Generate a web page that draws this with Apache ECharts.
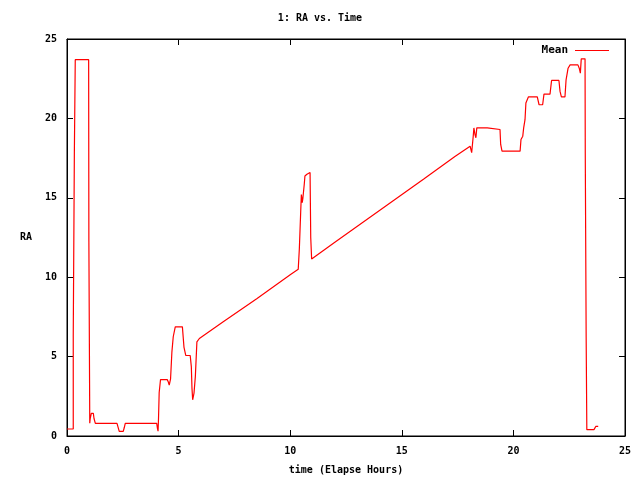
<!DOCTYPE html>
<html>
<head>
<meta charset="utf-8">
<script src="https://cdn.jsdelivr.net/npm/echarts@6/dist/echarts.min.js"></script>
<style>html,body{margin:0;padding:0;background:#fff}#c{width:640px;height:480px}</style>
</head>
<body>
<div id="c"></div>
<script>
const titleText = "1: RA vs. Time";
const xAxisName = "time (Elapse Hours)";
const yAxisName = "RA";
const seriesName = "Mean";
const xTicks = [0, 5, 10, 15, 20, 25];
const yTicks = [0, 5, 10, 15, 20, 25];

const timeHours = [
  0, 0.28, 0.28, 0.33, 0.33, 0.37, 0.37, 0.97, 0.98, 1.01,
  1.02, 1.04, 1.09, 1.18, 1.21, 1.27, 2.24, 2.30, 2.34, 2.52,
  2.57, 2.61, 4.02, 4.05, 4.08, 4.10, 4.13, 4.19, 4.49, 4.54,
  4.58, 4.64, 4.70, 4.76, 4.85, 5.17, 5.24, 5.32, 5.52, 5.57,
  5.60, 5.63, 5.69, 5.75, 5.82, 5.93, 7.0, 8.5, 10.0, 10.36,
  10.41, 10.47, 10.50, 10.54, 10.57, 10.63, 10.66, 10.75, 10.89, 10.92,
  10.96, 12.0, 14.0, 16.0, 17.38, 18.06, 18.13, 18.20, 18.23, 18.28,
  18.32, 18.36, 18.83, 18.91, 19.40, 19.43, 19.49, 20.30, 20.34, 20.42,
  20.46, 20.52, 20.56, 20.67, 21.07, 21.15, 21.31, 21.37, 21.64, 21.71,
  22.04, 22.09, 22.15, 22.31, 22.36, 22.45, 22.54, 22.89, 22.95, 23.00,
  23.04, 23.21, 23.22, 23.25, 23.26, 23.28, 23.29, 23.61, 23.65, 23.69,
  23.80
];
const raMean = [
  0.44, 0.44, 6.27, 6.27, 17.9, 17.9, 23.7, 23.7, 12.3, 12.3,
  0.8, 1.1, 1.42, 1.42, 1.1, 0.8, 0.8, 0.5, 0.29, 0.29,
  0.55, 0.8, 0.8, 0.5, 0.3, 1.1, 2.74, 3.55, 3.55, 3.4,
  3.2, 3.6, 5.3, 6.25, 6.87, 6.87, 5.6, 5.07, 5.07, 4.37,
  3.0, 2.28, 2.7, 3.74, 5.93, 6.14, 7.2, 8.65, 10.15, 10.5,
  11.8, 14.1, 15.2, 14.7, 15.0, 15.85, 16.37, 16.48, 16.59, 12.5,
  11.15, 12.2, 14.2, 16.2, 17.6, 18.25, 17.84, 18.88, 19.4, 18.98,
  18.78, 19.4, 19.4, 19.3, 19.3, 18.36, 17.94, 17.94, 18.67, 18.88,
  19.4, 19.92, 20.97, 21.35, 21.35, 20.86, 20.86, 21.53, 21.53, 22.39,
  22.39, 21.7, 21.35, 21.35, 22.43, 23.16, 23.37, 23.37, 23.16, 22.85,
  23.75, 23.75, 17.84, 17.84, 6.18, 6.18, 0.4, 0.4, 0.5, 0.6,
  0.6
];

const points = timeHours.map((t, i) => [t, raMean[i]]);
const FONT = "'DejaVu Sans Mono', monospace";
const txt = {color: '#000', fontFamily: FONT, fontSize: 10, fontWeight: 'bold'};

const chart = echarts.init(document.getElementById('c'), null, {renderer: 'canvas'});
const baseX = {
  type: 'value', min: xTicks[0], max: xTicks[xTicks.length - 1], interval: xTicks[1] - xTicks[0],
  axisLine: {show: true, onZero: false, lineStyle: {color: '#000', width: 1}},
  axisTick: {show: true, inside: true, length: 6, lineStyle: {color: '#000'}},
  splitLine: {show: false}
};
const baseY = {
  type: 'value', min: yTicks[0], max: yTicks[yTicks.length - 1], interval: yTicks[1] - yTicks[0],
  axisLine: {show: true, onZero: false, lineStyle: {color: '#000', width: 1}},
  axisTick: {show: true, inside: true, length: 6, lineStyle: {color: '#000'}},
  splitLine: {show: false}
};
chart.setOption({
  animation: false,
  backgroundColor: '#fff',
  title: {text: titleText, left: 'center', top: 8, textStyle: Object.assign({}, txt)},
  legend: {
    data: [seriesName], right: 26, top: 40, align: 'right', icon: 'rect',
    itemWidth: 34, itemHeight: 1, itemGap: 0,
    textStyle: Object.assign({}, txt, {fontSize: 11, padding: [0, 2, 0, 0]})
  },
  grid: {left: 67, right: 15, top: 39, bottom: 42, show: true, borderColor: '#000', borderWidth: 1},
  xAxis: [
    Object.assign({}, baseX, {
      position: 'bottom', name: xAxisName, nameLocation: 'middle', nameGap: 29,
      nameTextStyle: Object.assign({}, txt),
      axisLabel: Object.assign({}, txt, {margin: 10})
    }),
    Object.assign({}, baseX, {position: 'top', axisLabel: {show: false}})
  ],
  yAxis: [
    Object.assign({}, baseY, {
      position: 'left', name: yAxisName, nameLocation: 'middle', nameGap: 35, nameRotate: 0,
      nameTextStyle: Object.assign({}, txt),
      axisLabel: Object.assign({}, txt, {margin: 10})
    }),
    Object.assign({}, baseY, {position: 'right', axisLabel: {show: false}})
  ],
  series: [{
    name: seriesName, type: 'line', data: points, showSymbol: false, symbol: 'none',
    lineStyle: {color: '#ff0000', width: 1.2}, itemStyle: {color: '#ff0000'}
  }]
});
</script>
</body>
</html>
